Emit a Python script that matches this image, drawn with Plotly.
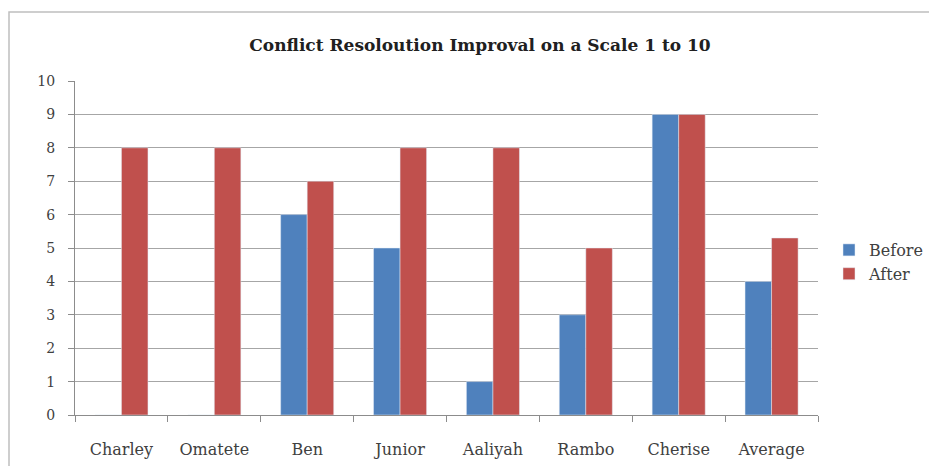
import plotly.graph_objects as go

categories = ["Charley", "Omatete", "Ben", "Junior", "Aaliyah", "Rambo", "Cherise", "Average"]
before = [0, 0, 6, 5, 1, 3, 9, 4]
after = [8, 8, 7, 8, 8, 5, 9, 5.3]
y_ticks = list(range(0, 11))

OFF = 8  # page body margin
W, H = 937 - OFF, 474 - 2 * OFF
L, T = 75 - OFF, 81 - OFF
R = W - (818 - OFF)
B = H - (415 - OFF)
pw = W - L - R
ph = H - T - B

fig = go.Figure()
fig.add_bar(x=categories, y=before, name="Before", marker_color="#4F81BD")
fig.add_bar(x=categories, y=after, name="After", marker_color="#C0504D")

font_family = "DejaVu Serif, Liberation Serif, serif"
fig.update_layout(
    width=W, height=H,
    margin=dict(l=L, r=R, t=T, b=B, autoexpand=False),
    paper_bgcolor="white", plot_bgcolor="white",
    barmode="group", bargap=0.4286, bargroupgap=0,
    font=dict(family=font_family, size=14, color="#404040"),
    title=dict(text="<b>Conflict Resoloution Improval on a Scale 1 to 10</b>",
               x=(480 - OFF) / W, xanchor="center", y=1 - (45 - OFF) / H, yanchor="middle",
               font=dict(family=font_family, size=17, color="#202020")),
    legend=dict(x=(829 - L - OFF) / pw, xanchor="left", y=(415 - 262) / ph, yanchor="middle",
                font=dict(size=16, color="#404040"), itemwidth=30, tracegroupgap=0),
    showlegend=True,
)
fig.update_xaxes(showline=True, linecolor="#8C8C8C", linewidth=1,
                 ticks="outside", tickcolor="#8C8C8C", ticklen=6,
                 tickson="boundaries", showgrid=False, ticklabelstandoff=20,
                 tickfont=dict(size=16))
fig.update_yaxes(range=[0, 10], tickvals=y_ticks, showline=True, linecolor="#8C8C8C",
                 linewidth=1, ticks="outside", tickcolor="#8C8C8C", ticklen=6,
                 showgrid=True, gridcolor="#A6A6A6", gridwidth=1, zeroline=False,
                 ticklabelstandoff=10, tickfont=dict(size=14))

fig.add_shape(type="rect", xref="paper", yref="paper",
              x0=(1 - L) / pw, x1=(W + 20 - L) / pw,
              y0=-(B + 20) / ph, y1=(ph + T - (12 - OFF)) / ph,
              line=dict(color="#BFBFBF", width=1.5), layer="below")

fig.write_html("out.html")
